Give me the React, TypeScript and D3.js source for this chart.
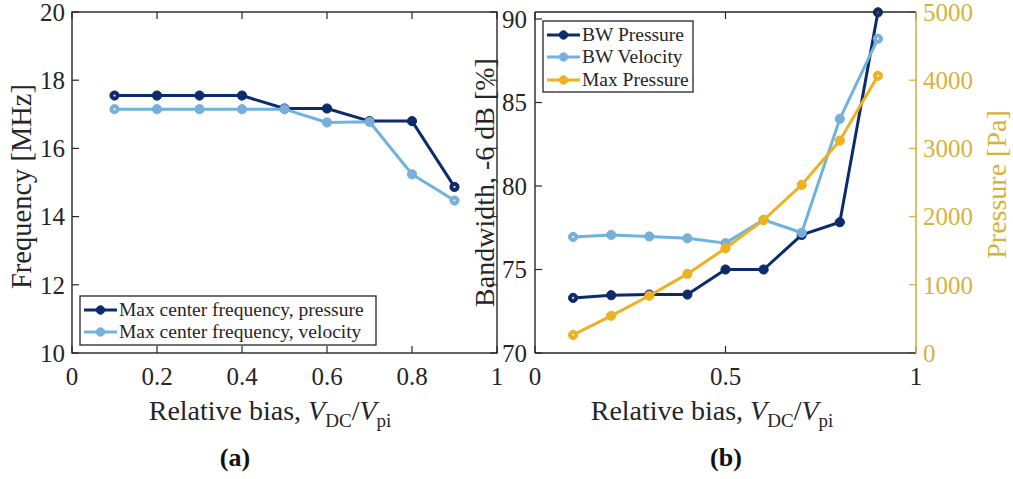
import React from "react";
import * as d3 from "d3";

// Relative bias values (V_DC / V_pi)
const bias = [0.1, 0.2, 0.3, 0.4, 0.5, 0.6, 0.7, 0.8, 0.9];

// Panel (a): maximum centre frequency [MHz]
const freqPressure = [17.55, 17.55, 17.55, 17.55, 17.17, 17.17, 16.8, 16.8, 14.87];
const freqVelocity = [17.15, 17.15, 17.15, 17.15, 17.15, 16.76, 16.78, 15.24, 14.47];

// Panel (b): -6 dB bandwidth [%] and max pressure [Pa]
const bwPressure = [73.3, 73.46, 73.5, 73.5, 75.0, 75.0, 77.07, 77.83, 90.4];
const bwVelocity = [76.95, 77.07, 76.98, 76.87, 76.58, 77.98, 77.2, 84.02, 88.82];
const maxPressure = [265, 545, 840, 1160, 1535, 1950, 2465, 3115, 4065];

const xTicksA = [0, 0.2, 0.4, 0.6, 0.8, 1];
const yTicksA = [10, 12, 14, 16, 18, 20];
const xTicksB = [0, 0.5, 1];
const yTicksB = [70, 75, 80, 85, 90];
const yTicksPa = [0, 1000, 2000, 3000, 4000, 5000];

const NAVY = "#0c2b6c";
const LIGHT = "#6db3de";
const LIGHT_MK = "#79aed8";
const ORANGE = "#eeb11f";
const GOLD = "#d6b23c";
const AX = "#262626";
const FONT = "Liberation Serif";

const TOP = 12;
const BOTTOM = 353;
const TICK = 7;

type Series = { values: number[]; color: string; marker: string };

function Lines({ series, x, y }: { series: Series; x: d3.ScaleLinear<number, number>; y: d3.ScaleLinear<number, number> }) {
  const line = d3
    .line<number>()
    .x((_, i) => x(bias[i]))
    .y((v) => y(v));
  const n = series.values.length;
  return (
    <g>
      <path d={line(series.values) || ""} fill="none" stroke={series.color} strokeWidth={3} strokeLinejoin="round" />
      {series.values.map((v, i) => (
        <g key={i}>
          <circle cx={x(bias[i])} cy={y(v)} r={4.6} fill={series.marker} stroke={series.color} strokeWidth={1} />
          {(i === 0 || i === n - 1) && <circle cx={x(bias[i])} cy={y(v)} r={1.1} fill="#ffffff" opacity={0.85} />}
        </g>
      ))}
    </g>
  );
}

function XLabel({ cx }: { cx: number }) {
  return (
    <text x={cx} y={420} fontSize={28} fill={AX} textAnchor="middle">
      Relative bias,{" "}
      <tspan fontStyle="italic">V</tspan>
      <tspan fontSize={19} dy={7}>DC</tspan>
      <tspan dy={-7}>/</tspan>
      <tspan fontStyle="italic">V</tspan>
      <tspan fontSize={19} dy={7}>pi</tspan>
    </text>
  );
}

function LegendItem({ x, y, s, label }: { x: number; y: number; s: Series; label: string }) {
  return (
    <g>
      <line x1={x} x2={x + 33} y1={y} y2={y} stroke={s.color} strokeWidth={3} />
      <circle cx={x + 16.5} cy={y} r={4.2} fill={s.marker} stroke={s.color} strokeWidth={1} />
      <text x={x + 35} y={y} dy="0.33em" fontSize={19.5} fill={AX}>
        {label}
      </text>
    </g>
  );
}

export default function App() {
  // Panel (a) scales
  const xa = d3.scaleLinear().domain([0, 1]).range([72, 497]);
  const ya = d3.scaleLinear().domain([10, 20]).range([BOTTOM, TOP]);

  // Panel (b) scales
  const xb = d3.scaleLinear().domain([0, 1]).range([535, 916]);
  const yb = d3.scaleLinear().domain([70, 90.42]).range([BOTTOM, TOP]);
  const yp = d3.scaleLinear().domain([0, 5000]).range([BOTTOM, TOP]);

  const sFreqP: Series = { values: freqPressure, color: NAVY, marker: NAVY };
  const sFreqV: Series = { values: freqVelocity, color: LIGHT, marker: LIGHT_MK };
  const sBwP: Series = { values: bwPressure, color: NAVY, marker: NAVY };
  const sBwV: Series = { values: bwVelocity, color: LIGHT, marker: LIGHT_MK };
  const sMaxP: Series = { values: maxPressure, color: ORANGE, marker: ORANGE };

  return (
    <svg
      width={1013}
      height={479}
      style={{ position: "absolute", left: 0, top: 0, background: "#fff", fontFamily: FONT }}
    >
      <rect width={1013} height={479} fill="#fff" />

      {/* ---------- Panel (a) ---------- */}
      <g>
        {xTicksA.map((t) => (
          <g key={"xa" + t}>
            <line x1={xa(t)} x2={xa(t)} y1={BOTTOM} y2={BOTTOM - TICK} stroke={AX} strokeWidth={1.2} />
            <line x1={xa(t)} x2={xa(t)} y1={TOP} y2={TOP + TICK} stroke={AX} strokeWidth={1.2} />
            <text x={xa(t)} y={BOTTOM + 32} fontSize={25} fill={AX} textAnchor="middle">
              {String(t)}
            </text>
          </g>
        ))}
        {yTicksA.map((t) => (
          <g key={"ya" + t}>
            <line x1={72} x2={72 + TICK} y1={ya(t)} y2={ya(t)} stroke={AX} strokeWidth={1.2} />
            <line x1={497} x2={497 - TICK} y1={ya(t)} y2={ya(t)} stroke={AX} strokeWidth={1.2} />
            <text x={65} y={ya(t)} dy="0.35em" fontSize={25} fill={AX} textAnchor="end">
              {t}
            </text>
          </g>
        ))}
        <Lines series={sFreqP} x={xa} y={ya} />
        <Lines series={sFreqV} x={xa} y={ya} />
        <rect x={72} y={TOP} width={425} height={BOTTOM - TOP} fill="none" stroke={AX} strokeWidth={1.4} />

        <text
          transform={`translate(31,${(TOP + BOTTOM) / 2 + 4}) rotate(-90)`}
          fontSize={28.5}
          fill={AX}
          textAnchor="middle"
        >
          Frequency [MHz]
        </text>
        <XLabel cx={270} />

        <rect x={80} y={296} width={296} height={49} fill="#fff" stroke={AX} strokeWidth={1.3} />
        <LegendItem x={84} y={310} s={sFreqP} label="Max center frequency, pressure" />
        <LegendItem x={84} y={332} s={sFreqV} label="Max center frequency, velocity" />

        <text x={235} y={466} fontSize={26} fontWeight="bold" fill="#111" textAnchor="middle">
          (a)
        </text>
      </g>

      {/* ---------- Panel (b) ---------- */}
      <g>
        {xTicksB.map((t) => (
          <g key={"xb" + t}>
            <line x1={xb(t)} x2={xb(t)} y1={BOTTOM} y2={BOTTOM - TICK} stroke={AX} strokeWidth={1.2} />
            <line x1={xb(t)} x2={xb(t)} y1={TOP} y2={TOP + TICK} stroke={AX} strokeWidth={1.2} />
            <text x={xb(t)} y={BOTTOM + 32} fontSize={25} fill={AX} textAnchor="middle">
              {String(t)}
            </text>
          </g>
        ))}
        {yTicksB.map((t) => (
          <g key={"yb" + t}>
            <line x1={535} x2={535 + TICK} y1={yb(t)} y2={yb(t)} stroke={AX} strokeWidth={1.2} />
            <text x={527} y={yb(t)} dy="0.35em" fontSize={25} fill={AX} textAnchor="end">
              {t}
            </text>
          </g>
        ))}
        {yTicksPa.map((t) => (
          <g key={"yp" + t}>
            <line x1={916} x2={916 - TICK} y1={yp(t)} y2={yp(t)} stroke={GOLD} strokeWidth={1.2} />
            <text x={923} y={yp(t)} dy="0.35em" fontSize={25} fill={GOLD} textAnchor="start">
              {t}
            </text>
          </g>
        ))}

        <Lines series={sBwP} x={xb} y={yb} />
        <Lines series={sBwV} x={xb} y={yb} />
        <Lines series={sMaxP} x={xb} y={yp} />

        <line x1={535} x2={916} y1={TOP} y2={TOP} stroke={AX} strokeWidth={1.4} />
        <line x1={535} x2={916} y1={BOTTOM} y2={BOTTOM} stroke={AX} strokeWidth={1.4} />
        <line x1={535} x2={535} y1={TOP} y2={BOTTOM} stroke={AX} strokeWidth={1.4} />
        <line x1={916} x2={916} y1={TOP} y2={BOTTOM} stroke={GOLD} strokeWidth={1.6} />

        <text
          transform={`translate(494,${(TOP + BOTTOM) / 2}) rotate(-90)`}
          fontSize={28}
          fill={AX}
          textAnchor="middle"
        >
          Bandwidth, -6 dB [%]
        </text>
        <text
          transform={`translate(1006,${(TOP + BOTTOM) / 2 + 2}) rotate(-90)`}
          fontSize={28}
          fill={GOLD}
          textAnchor="middle"
        >
          Pressure [Pa]
        </text>
        <XLabel cx={712} />

        <rect x={543} y={21} width={150} height={71} fill="#fff" stroke={AX} strokeWidth={1.3} />
        <LegendItem x={547} y={35} s={sBwP} label="BW Pressure" />
        <LegendItem x={547} y={57} s={sBwV} label="BW Velocity" />
        <LegendItem x={547} y={80} s={sMaxP} label="Max Pressure" />

        <text x={726} y={466} fontSize={26} fontWeight="bold" fill="#111" textAnchor="middle">
          (b)
        </text>
      </g>
    </svg>
  );
}
